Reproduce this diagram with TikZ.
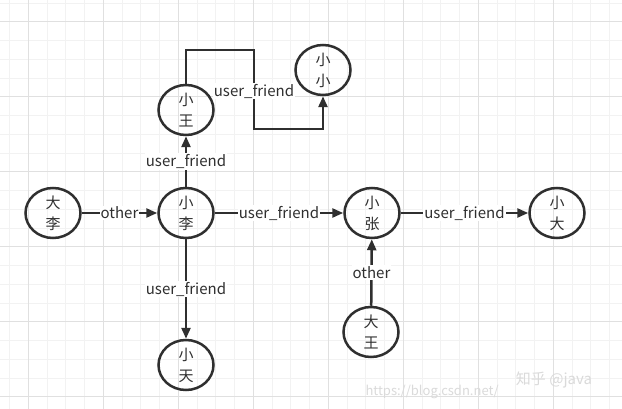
\documentclass[tikz,border=0pt]{standalone}
\usepackage{fontspec}
\setmainfont{Noto Sans CJK SC}
\usetikzlibrary{arrows.meta,shapes.geometric}
\definecolor{ink}{HTML}{2F2F2F}
\definecolor{gminor}{HTML}{F2F2F2}
\definecolor{gmajor}{HTML}{E0E0E0}
\definecolor{wmark}{HTML}{DADADA}
\tikzset{
  person/.style={ellipse, draw=ink, line width=2.5pt, minimum width=55pt, minimum height=50pt,
    inner sep=0pt, align=center, text=ink, font=\fontsize{15pt}{21pt}\selectfont},
  edge/.style={draw=ink, line width=2.5pt, -{Triangle[length=11pt,width=9pt]}},
  lbl/.style={fill=white, inner sep=1pt, text=ink, font=\fontsize{15pt}{18pt}\selectfont},
  minorline/.style={draw=gminor, line width=0.8pt},
  majorline/.style={draw=gmajor, line width=0.9pt}
}
\begin{document}
\begin{tikzpicture}[x=1pt,y=-1pt]
\fill[white] (0,0) rectangle (622,409);
\useasboundingbox (0,0) rectangle (622,409);
% grid
\foreach \i in {0,...,32} {\draw[minorline] ({9.55+18.75*\i},0) -- ++(0,409);}
\foreach \i in {0,...,21} {\draw[minorline] (0,{2.95+18.75*\i}) -- ++(622,0);}
\foreach \i in {0,...,7} {\draw[majorline] ({28.3+75*\i},0) -- ++(0,409);}
\foreach \i in {0,...,5} {\draw[majorline] (0,{21.7+75*\i}) -- ++(622,0);}
% nodes
\node[person] (dali) at (53,213) {大\\李};
\node[person] (xiaoli) at (186,213) {小\\李};
\node[person] (xiaozhang) at (372,213) {小\\张};
\node[person] (xiaoda) at (557,213) {小\\大};
\node[person] (xiaowang) at (186,110) {小\\王};
\node[person] (xiaoxiao) at (323,70) {小\\小};
\node[person] (xiaotian) at (186,365) {小\\天};
\node[person] (dawang) at (371,332) {大\\王};
% edges
\draw[edge] (dali) -- node[lbl]{other} (xiaoli);
\draw[edge] (xiaoli) -- node[lbl]{user\_friend} (xiaozhang);
\draw[edge] (xiaozhang) -- node[lbl]{user\_friend} (xiaoda);
\draw[edge] (xiaoli) -- node[lbl]{user\_friend} (xiaowang);
\draw[edge] (xiaoli) -- node[lbl]{user\_friend} (xiaotian);
\draw[edge] (dawang) -- node[lbl]{other} (xiaozhang);
\coordinate (c1) at (254,50);
\coordinate (c2) at (254,129);
\draw[edge] (xiaowang.north) |- (c1) -- node[lbl, pos=0.52]{user\_friend} (c2) -| (xiaoxiao.south);
% watermark
\node[text=wmark, font=\fontsize{15pt}{18pt}\selectfont] (wm1) at (554,380) {知乎 @java};
\node[text=wmark, font=\fontsize{13pt}{16pt}\selectfont, anchor=west] (wm2) at (362,392) {https://blog.csdn.net/};
\end{tikzpicture}
\end{document}
